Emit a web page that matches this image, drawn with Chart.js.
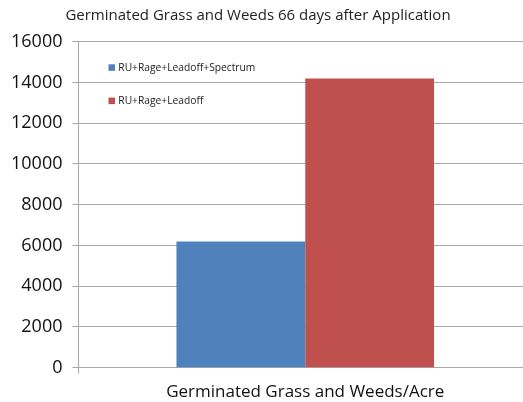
<!DOCTYPE html>
<html>
<head>
<meta charset="utf-8">
<script src="https://cdn.jsdelivr.net/npm/chart.js@4/dist/chart.umd.min.js"></script>
<style>
html,body{margin:0;padding:0;overflow:hidden;background:#fff;width:523px;height:402px;}
canvas{display:block;}
</style>
</head>
<body>
<canvas id="c" width="545" height="402" style="width:545px;height:402px"></canvas>
<script>
const titleText = 'Germinated Grass and Weeds 66 days after Application';
const categories = ['Germinated Grass and Weeds/Acre'];
const seriesNames = ['RU+Rage+Leadoff+Spectrum', 'RU+Rage+Leadoff'];
const seriesValues = [[6200], [14200]];
const seriesColors = ['#4F81BD', '#C0504D'];
const yTicks = [0, 2000, 4000, 6000, 8000, 10000, 12000, 14000, 16000];

const FONT = '"Open Sans", Lato, sans-serif';
const gridColor = '#a8a8a8';

const overlay = {
  id: 'overlay',
  afterDraw(chart) {
    const ctx = chart.ctx;
    ctx.save();
    ctx.fillStyle = '#222';
    ctx.font = '15px ' + FONT;
    ctx.textAlign = 'center';
    ctx.textBaseline = 'alphabetic';
    ctx.fillText(titleText, 258, 20);
    // legend
    const baselines = [71, 104.3];
    chart.data.datasets.forEach((ds, i) => {
      ctx.fillStyle = ds.backgroundColor;
      ctx.fillRect(108.5, baselines[i] - 6.7, 6.5, 6.5);
      ctx.fillStyle = '#222';
      ctx.font = '10.25px ' + FONT;
      ctx.textAlign = 'left';
      ctx.fillText(ds.label, 118.3, baselines[i]);
    });
    ctx.restore();
  }
};

new Chart(document.getElementById('c'), {
  type: 'bar',
  data: {
    labels: categories,
    datasets: seriesNames.map((n, i) => ({
      label: n,
      data: seriesValues[i],
      backgroundColor: seriesColors[i],
      borderWidth: 0,
      categoryPercentage: 0.568,
      barPercentage: 1.0
    }))
  },
  options: {
    responsive: false,
    animation: false,
    devicePixelRatio: 1,
    layout: { padding: { top: 41.7, right: 13, left: 0, bottom: 0 } },
    plugins: {
      legend: { display: false },
      title: { display: false },
      tooltip: { enabled: false }
    },
    scales: {
      x: {
        grid: { display: true, drawOnChartArea: false, drawTicks: true, tickLength: 6, color: gridColor, offset: true },
        border: { display: true, color: gridColor },
        ticks: { color: '#111', font: { family: FONT, size: 17 }, padding: 8 },
        afterFit(s) { s.height = 34.3; }
      },
      y: {
        min: 0, max: 16000,
        afterBuildTicks(s) { s.ticks = yTicks.map(v => ({ value: v })); },
        grid: { color: gridColor, drawTicks: true, tickLength: 6 },
        border: { display: true, color: gridColor },
        ticks: { color: '#111', font: { family: FONT, size: 18 }, padding: 10, callback: v => String(v) },
        afterFit(s) { s.width = 78.5; }
      }
    }
  },
  plugins: [overlay]
});
</script>
</body>
</html>
